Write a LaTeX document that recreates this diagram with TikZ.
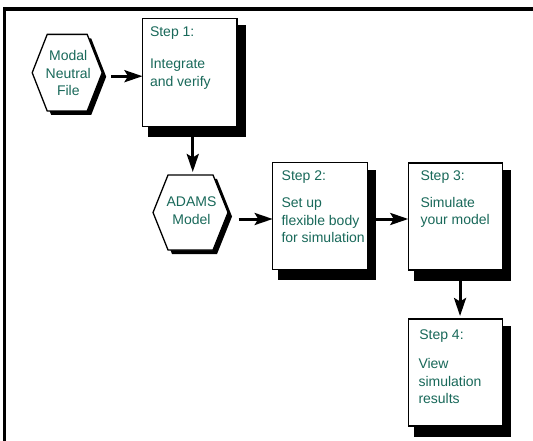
\documentclass[tikz,border=0pt]{standalone}
\usepackage{fontspec}
\setmainfont{Liberation Sans}
\usetikzlibrary{arrows.meta,calc,backgrounds}
\definecolor{steptext}{RGB}{25,105,90}
\newcommand\hexat[5]{(#1-#3,#2) -- (#1-#3+#5,#2-#4) -- (#1+#3-#5,#2-#4) -- (#1+#3,#2) -- (#1+#3-#5,#2+#4) -- (#1-#3+#5,#2+#4) -- cycle}
\begin{document}
\begin{tikzpicture}[x=1pt,y=-1pt,
  txt/.style={inner sep=0pt, outer sep=0pt, text=steptext, font=\fontsize{14}{17.5}\selectfont, align=left, anchor=base west},
  ctxt/.style={inner sep=0pt, outer sep=0pt, text=steptext, font=\fontsize{14}{17.5}\selectfont, align=center, anchor=base},
  stepbox/.style={draw=black, line width=1.3pt, fill=white, inner sep=0pt, outer sep=0pt, minimum width=94.5pt, minimum height=107pt, anchor=north west},
  hexbox/.style={inner sep=0pt, outer sep=0pt},
  hexline/.style={draw=black, line width=1.3pt, fill=white, line join=miter},
  arr/.style={line width=3pt, -{Stealth[length=18pt,width=12pt,inset=3.5pt]}},
]
\useasboundingbox (0,0) rectangle (533,441);
% frame
\draw[line width=3.5pt] (4.3,441) -- (4.3,9.2) -- (533,9.2);

% hexagons
\fill[black] \hexat{71.2}{76.7}{35}{38.3}{15};
\path[hexline] \hexat{67.2}{72.7}{35}{38.3}{15};
\node[hexbox, minimum width=70pt, minimum height=76.6pt] (mnf) at (67.2,72.7) {};
\node[ctxt] (mnft) at (68.3,96) {Modal\\Neutral\\File};

\fill[black] \hexat{194.5}{216.5}{37.5}{37.5}{15};
\path[hexline] \hexat{190.5}{212.5}{37.5}{37.5}{15};
\node[hexbox, minimum width=75pt, minimum height=75pt] (adams) at (190.5,212.5) {};
\node[ctxt] (adamst) at (191.5,224.5) {ADAMS\\Model};

% step boxes
\node[stepbox, minimum height=108.4pt] (s1) at (142.5,18.3) {};
\node[stepbox] (s2) at (272.7,162.7) {};
\node[stepbox] (s3) at (408.3,163) {};
\node[stepbox] (s4) at (408.3,319) {};

\begin{scope}[on background layer]
\foreach \n in {s1,s2,s3,s4}
  \fill[black] ($(\n.north west)+(5.5,7)$) rectangle ($(\n.south east)+(8.5,10.5)$);
\end{scope}

\node[txt] (s1l) at (150,36.7) {Step 1:};
\node[txt] (s1b) at (150,86.5) {Integrate\\and verify};
\node[txt] (s2l) at (281.7,180.7) {Step 2:};
\node[txt] (s2b) at (281.5,242.5) {Set up\\flexible body\\for simulation};
\node[txt] (s3l) at (420.5,180.7) {Step 3:};
\node[txt] (s3b) at (420.5,224.8) {Simulate\\your model};
\node[txt] (s4l) at (419.3,339.3) {Step 4:};
\node[txt] (s4b) at (418.5,403.5) {View\\simulation\\results};

% connectors
\draw[arr] ($(mnf.east)+(9,3.5)$) -- ($(mnf.east -| s1.west)+(0,3.5)$);
\draw[arr] ($(s1.south)+(3,10.5)$) -- ($(adams.north -| s1.south)+(3,-3)$);
\draw[arr] ($(adams.east)+(10.5,6.5)$) -- ($(adams.east -| s2.west)+(0,6.5)$);
\draw[arr] ($(s2.east)+(8.5,2.8)$) -- ($(s2.east -| s3.west)+(0,2.8)$);
\draw[arr] ($(s3.south)+(4.5,10.5)$) -- ($(s4.north)+(4.5,-3)$);
\end{tikzpicture}
\end{document}
